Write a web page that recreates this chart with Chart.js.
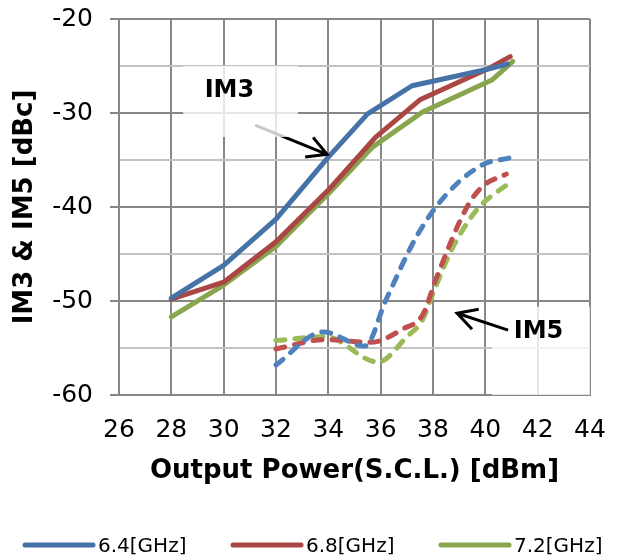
<!DOCTYPE html>
<html>
<head>
<meta charset="utf-8">
<title>IM3 &amp; IM5 vs Output Power</title>
<script src="https://cdn.jsdelivr.net/npm/chart.js@4.4.1/dist/chart.umd.min.js"></script>
<style>
  html, body { margin: 0; padding: 0; background: #fff; }
  #wrap { width: 621px; height: 556px; }
</style>
</head>
<body>
<div id="wrap"><canvas id="chart" width="621" height="556"></canvas></div>
<script>
// Axis ticks
const xTickLabels = [26, 28, 30, 32, 34, 36, 38, 40, 42, 44];
const yTickLabels = [-60, -50, -40, -30, -20];
const yGridLines = [-60, -55, -50, -45, -40, -35, -30, -25, -20];

const seriesNames = ['6.4[GHz]', '6.8[GHz]', '7.2[GHz]'];
const solidColors = ['#4572A7', '#AA4643', '#89A54E'];
const dashColors = ['#4F81BD', '#C0504D', '#9BBB59'];

// IM3 (solid lines): output power [dBm] / level [dBc]
const im3Pout64 = [28, 30, 32, 34, 35.5, 37.2, 40.0, 40.85];
const im3Level64 = [-49.7, -46.2, -41.3, -34.7, -30.1, -27.1, -25.4, -24.8];
const im3Pout68 = [28, 30, 32, 34, 35.8, 37.5, 40.1, 40.95];
const im3Level68 = [-49.8, -48.0, -43.7, -38.2, -32.6, -28.6, -25.3, -24.0];
const im3Pout72 = [28, 30, 32, 34, 35.7, 37.6, 40.25, 41.05];
const im3Level72 = [-51.7, -48.3, -44.2, -38.6, -33.6, -29.9, -26.5, -24.5];

// IM5 (dashed lines)
const im5Pout64 = [32, 33.8, 35.4, 36.2, 37.4, 38.5, 39.9, 40.9];
const im5Level64 = [-56.8, -53.3, -54.8, -49.9, -43.0, -38.7, -35.5, -34.8];
const im5Pout68 = [32, 33.9, 35.6, 36.9, 37.6, 38.15, 39.3, 39.9, 40.8];
const im5Level68 = [-55.1, -54.1, -54.4, -52.9, -51.5, -47.4, -40.0, -37.8, -36.5];
const im5Pout72 = [32, 33.9, 35.9, 37.0, 37.6, 38.0, 38.7, 39.7, 40.4, 41.0];
const im5Level72 = [-54.2, -53.8, -56.5, -53.8, -52.0, -49.2, -44.6, -40.2, -38.5, -37.3];

// callout labels (data units)
const callouts = [
  { text: 'IM3', at: [30.22, -27.6], box: [28.45, -25.0, 32.84, -32.55], from: [31.2, -31.3], to: [33.95, -34.4], boxOverArrow: true },
  { text: 'IM5', at: [42.03, -53.3], box: [40.25, -50.6, 44.0, -60.0], from: [40.87, -53.1], to: [38.92, -51.3], boxOverArrow: false },
];

const FONT = "'DejaVu Sans', Verdana, sans-serif";

function pts(xs, ys) {
  return xs.map((x, i) => ({ x, y: ys[i] }));
}

function solidSet(i, xs, ys) {
  return {
    label: seriesNames[i],
    data: pts(xs, ys),
    borderColor: solidColors[i],
    backgroundColor: solidColors[i],
    borderWidth: 5,
    pointRadius: 0,
    tension: 0,
    borderCapStyle: 'round',
    borderJoinStyle: 'round',
  };
}

function dashSet(i, xs, ys) {
  return {
    label: seriesNames[i] + ' IM5',
    data: pts(xs, ys),
    borderColor: dashColors[i],
    backgroundColor: dashColors[i],
    borderWidth: 5,
    borderDash: [9, 10],
    borderCapStyle: 'round',
    pointRadius: 0,
    cubicInterpolationMode: 'monotone',
  };
}

function drawArrow(ctx, x0, y0, x1, y1) {
  const ang = Math.atan2(y0 - y1, x0 - x1);
  const len = 22, spread = 0.5;
  ctx.beginPath();
  ctx.moveTo(x0, y0);
  ctx.lineTo(x1, y1);
  ctx.moveTo(x1 + len * Math.cos(ang + spread), y1 + len * Math.sin(ang + spread));
  ctx.lineTo(x1, y1);
  ctx.lineTo(x1 + len * Math.cos(ang - spread), y1 + len * Math.sin(ang - spread));
  ctx.stroke();
}

const calloutPlugin = {
  id: 'callouts',
  afterDatasetsDraw(chart) {
    const { ctx, scales: { x, y } } = chart;
    ctx.save();
    callouts.forEach((c) => {
      const bx0 = x.getPixelForValue(c.box[0]), by0 = y.getPixelForValue(c.box[1]);
      const bx1 = x.getPixelForValue(c.box[2]), by1 = y.getPixelForValue(c.box[3]);
      const arrow = () => {
        ctx.strokeStyle = '#000';
        ctx.lineWidth = 3;
        ctx.lineCap = 'butt';
        ctx.lineJoin = 'miter';
        drawArrow(ctx, x.getPixelForValue(c.from[0]), y.getPixelForValue(c.from[1]),
          x.getPixelForValue(c.to[0]), y.getPixelForValue(c.to[1]));
      };
      if (c.boxOverArrow) arrow();
      ctx.fillStyle = 'rgba(255,255,255,0.78)';
      ctx.fillRect(bx0, by0, bx1 - bx0, by1 - by0);
      if (!c.boxOverArrow) arrow();
      ctx.fillStyle = '#000';
      ctx.font = 'bold 24px ' + FONT;
      ctx.textAlign = 'center';
      ctx.textBaseline = 'middle';
      ctx.fillText(c.text, x.getPixelForValue(c.at[0]), y.getPixelForValue(c.at[1]));
    });
    ctx.restore();
  },
};

// legend for the three frequencies, drawn under the axis title
const legendPlugin = {
  id: 'bottomLegend',
  afterDraw(chart) {
    const ctx = chart.ctx;
    const starts = [23, 231, 439];
    ctx.save();
    ctx.font = '20px ' + FONT;
    ctx.textAlign = 'left';
    ctx.textBaseline = 'alphabetic';
    seriesNames.forEach((name, i) => {
      const x0 = starts[i];
      ctx.strokeStyle = solidColors[i];
      ctx.lineWidth = 5;
      ctx.lineCap = 'round';
      ctx.beginPath();
      ctx.moveTo(x0 + 2, 545);
      ctx.lineTo(x0 + 70, 545);
      ctx.stroke();
      ctx.fillStyle = '#000';
      ctx.fillText(name, x0 + 75, 552);
    });
    ctx.restore();
  },
};

new Chart(document.getElementById('chart'), {
  type: 'line',
  data: {
    datasets: [
      solidSet(0, im3Pout64, im3Level64),
      solidSet(1, im3Pout68, im3Level68),
      solidSet(2, im3Pout72, im3Level72),
      dashSet(0, im5Pout64, im5Level64),
      dashSet(1, im5Pout68, im5Level68),
      dashSet(2, im5Pout72, im5Level72),
    ],
  },
  options: {
    responsive: false,
    devicePixelRatio: 1,
    animation: false,
    layout: { padding: { left: 0, right: 31, top: 19, bottom: 67 } },
    plugins: {
      legend: { display: false },
      tooltip: { enabled: false },
    },
    scales: {
      x: {
        type: 'linear',
        min: xTickLabels[0],
        max: xTickLabels[xTickLabels.length - 1],
        afterBuildTicks: (scale) => { scale.ticks = xTickLabels.map((v) => ({ value: v })); },
        afterFit: (scale) => { scale.height = 94; scale.paddingLeft = 0; scale.paddingRight = 0; },
        grid: { color: '#878787', lineWidth: 2, drawTicks: false },
        border: { color: '#878787', width: 2 },
        ticks: { color: '#000', font: { family: FONT, size: 25 }, padding: 20, maxRotation: 0 },
        title: {
          display: true,
          text: 'Output Power(S.C.L.) [dBm]',
          color: '#000',
          font: { family: FONT, size: 26, weight: 'bold' },
          padding: { top: 0, bottom: 2 },
        },
      },
      y: {
        min: yTickLabels[0],
        max: yTickLabels[yTickLabels.length - 1],
        afterBuildTicks: (scale) => { scale.ticks = yGridLines.map((v) => ({ value: v })); },
        afterFit: (scale) => { scale.width = 119; scale.paddingTop = 0; scale.paddingBottom = 0; },
        grid: {
          color: (c) => (yTickLabels.includes(c.tick.value) ? '#878787' : '#C3C3C3'),
          tickColor: (c) => (yTickLabels.includes(c.tick.value) ? '#878787' : 'rgba(0,0,0,0)'),
          lineWidth: 2,
          tickLength: 9,
        },
        border: { color: '#878787', width: 2 },
        ticks: {
          color: '#000',
          font: { family: FONT, size: 25 },
          padding: 17,
          callback: (v) => (yTickLabels.includes(v) ? String(v) : ''),
        },
        title: {
          display: true,
          text: 'IM3 & IM5 [dBc]',
          color: '#000',
          font: { family: FONT, size: 26, weight: 'bold' },
          padding: { top: 10, bottom: 0 },
        },
      },
    },
  },
  plugins: [calloutPlugin, legendPlugin],
});
</script>
</body>
</html>
